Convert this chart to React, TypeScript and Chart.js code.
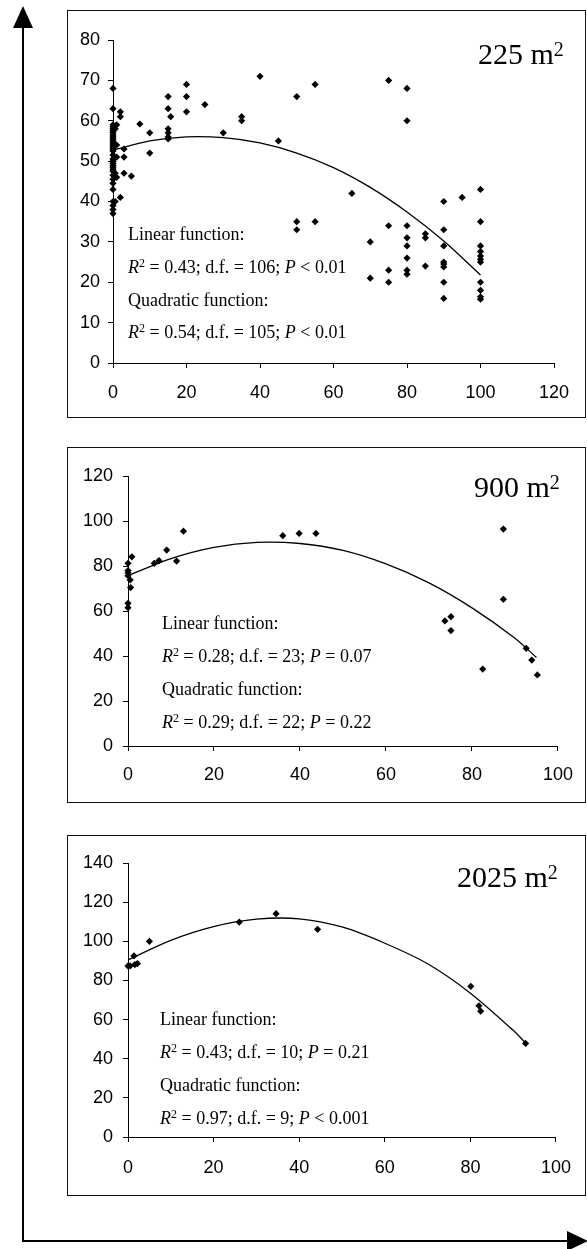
import React, { useEffect, useRef } from 'react';
import { Chart, registerables } from 'chart.js';

Chart.register(...registerables);

// ---------- data ----------
const areaLabels = ['225', '900', '2025'];

// Panel 1: 225 m2
const p225X = [
  0, 0, 0, 0, 0, 0, 0, 0, 0, 0, 0, 0, 0, 0, 0, 0, 0, 0, 0, 0, 0, 0, 0, 0, 0, 0, 0, 0, 0, 0, 0, 0,
  0.6, 0.6, 0.6, 1, 1, 1, 1, 2, 2, 2, 3, 3, 3, 5, 7.3, 10, 10,
  15, 15, 15, 15, 15, 15, 15.7, 20, 20, 20, 25, 30, 35, 35, 40, 45, 50, 50, 50, 55, 55, 65,
  70, 70, 75, 75, 75, 75, 80, 80, 80, 80, 80, 80, 80, 80, 85, 85, 85,
  90, 90, 90, 90, 90, 90, 90, 90, 95, 100, 100, 100, 100, 100, 100, 100, 100, 100, 100, 100,
];
const p225Y = [
  68, 63, 59, 58.5, 58, 57.5, 57, 56.5, 56, 55.5, 55, 54.5, 54, 53.5, 53, 52.5, 51.5, 50.5, 50, 49.5, 49, 48.5, 48, 47.5, 46.5, 45.5, 44.5, 43, 40, 39, 38, 37,
  58, 47, 40, 59, 54, 51, 46, 62.2, 61, 41, 53, 51, 47, 46.3, 59.2, 57, 52,
  66, 63, 58, 57, 56, 55.5, 61, 69, 66, 62.2, 64, 57, 61, 60, 71, 55, 66, 35, 33, 69, 35, 42,
  30, 21, 70, 34, 23, 20, 68, 60, 34, 31, 29, 26, 23, 22, 32, 31, 24,
  40, 33, 29, 25, 24.5, 23.8, 20, 16, 41, 43, 35, 29, 27.6, 26.5, 25.7, 25, 20, 18, 16.4, 15.8,
];
const c225X = [0, 10, 20, 30, 40, 50, 60, 70, 80, 90, 100];
const c225Y = [52.7, 55.0, 56.0, 55.8, 54.5, 52.0, 48.4, 43.5, 37.4, 30.2, 21.8];

// Panel 2: 900 m2
const p900X = [0, 0, 0, 0, 0.9, 0.5, 0.6, 0, 0, 6.1, 7.2, 9, 11.3, 12.9, 36, 39.8, 43.7, 73.7, 75.1, 75.1, 82.5, 87.3, 87.3, 92.6, 93.9, 95.2];
const p900Y = [81.2, 78, 77, 75.7, 84.1, 73.8, 70.4, 63.4, 61.5, 81.2, 82.4, 87.1, 82.2, 95.5, 93.5, 94.5, 94.5, 55.6, 57.5, 51.3, 34.2, 96.4, 65.2, 43.4, 38.2, 31.6];
const c900X = [0, 10, 20, 30, 40, 50, 60, 70, 80, 90, 95];
const c900Y = [75.7, 83.3, 88.3, 90.5, 90.0, 86.9, 80.9, 72.5, 61.4, 47.9, 39.3];

// Panel 3: 2025 m2
const p2025X = [0, 0.5, 1.4, 1.6, 2.2, 5, 26, 34.6, 44.3, 80.1, 82, 82.4, 92.9];
const p2025Y = [87.4, 87.4, 92.5, 88.1, 88.6, 100, 109.8, 114.1, 106.1, 77, 67, 64.3, 47.8];
const c2025X = [0, 10, 20, 30, 40, 50, 60, 70, 80, 90, 93];
const c2025Y = [90.5, 100.5, 107.5, 111.3, 111.5, 107.3, 99, 88.5, 73.5, 54.5, 47.8];

// statistics text
const linR2 = ['0.43', '0.28', '0.43'];
const linDf = ['106', '23', '10'];
const linP = ['< 0.01', '= 0.07', '= 0.21'];
const quadR2 = ['0.54', '0.29', '0.97'];
const quadDf = ['105', '22', '9'];
const quadP = ['< 0.01', '= 0.22', '< 0.001'];

const xMaxes = [120, 100, 100];
const yMaxes = [80, 120, 140];
const yStepsArr = [10, 20, 20];
const xStepsArr = [20, 20, 20];

// ---------- layout (positions / styles) ----------
const BOX_LEFT = 67;
const BOX_W = 519;
const layouts = [
  { top: 10, height: 408, yAxisW: 46, padRight: 32, padTop: 30, xAxisH: 55, xPad: 14, yPad: 8,
    titleLeft: 478, titleBase: 64, textLeft: 128, bases: [240, 273, 306, 338] },
  { top: 447, height: 356, yAxisW: 61, padRight: 28, padTop: 29, xAxisH: 57, xPad: 13, yPad: 10,
    titleLeft: 474, titleBase: 497, textLeft: 162, bases: [629, 662, 695, 728] },
  { top: 835, height: 361, yAxisW: 61, padRight: 28, padTop: 28, xAxisH: 59, xPad: 15, yPad: 10,
    titleLeft: 457, titleBase: 887, textLeft: 160, bases: [1025, 1058, 1091, 1124] },
];

const pointsX = [p225X, p900X, p2025X];
const pointsY = [p225Y, p900Y, p2025Y];
const curvesX = [c225X, c900X, c2025X];
const curvesY = [c225Y, c900Y, c2025Y];

const SANS = '"Liberation Sans", Arial, sans-serif';
const SERIF = '"Liberation Serif", "Times New Roman", serif';

function PanelChart({ idx }: { idx: number }) {
  const ref = useRef<HTMLCanvasElement>(null);
  const L = layouts[idx];
  useEffect(() => {
    const pts = pointsX[idx].map((x, i) => ({ x, y: pointsY[idx][i] }));
    const curve = curvesX[idx].map((x, i) => ({ x, y: curvesY[idx][i] }));
    const tickFont = { family: SANS, size: 18 };
    const chart = new Chart(ref.current as HTMLCanvasElement, {
      type: 'scatter',
      data: {
        datasets: [
          {
            data: curve,
            showLine: true,
            borderColor: '#000',
            borderWidth: 1.3,
            pointRadius: 0,
            tension: 0.3,
            fill: false,
            clip: false,
          } as any,
          {
            data: pts,
            pointStyle: 'rectRot',
            pointRadius: 3.6,
            backgroundColor: '#000',
            borderColor: '#000',
            borderWidth: 0,
            clip: false,
          } as any,
        ],
      },
      options: {
        animation: false,
        responsive: false,
        maintainAspectRatio: false,
        devicePixelRatio: 1,
        layout: { padding: { left: 0, right: L.padRight, top: L.padTop, bottom: 0 } },
        plugins: { legend: { display: false }, tooltip: { enabled: false } },
        scales: {
          x: {
            type: 'linear',
            min: 0,
            max: xMaxes[idx],
            ticks: { stepSize: xStepsArr[idx], color: '#000', font: tickFont, padding: L.xPad, maxRotation: 0 },
            grid: { drawOnChartArea: false, drawTicks: true, tickLength: 5, color: '#000', lineWidth: 1 },
            border: { display: true, color: '#000', width: 1 },
            afterFit: (s: any) => { s.height = L.xAxisH; },
          },
          y: {
            type: 'linear',
            min: 0,
            max: yMaxes[idx],
            ticks: { stepSize: yStepsArr[idx], color: '#000', font: tickFont, padding: L.yPad },
            grid: { drawOnChartArea: false, drawTicks: true, tickLength: 5, color: '#000', lineWidth: 1 },
            border: { display: true, color: '#000', width: 1 },
            afterFit: (s: any) => { s.width = L.yAxisW; },
          },
        },
      } as any,
    });
    return () => chart.destroy();
  }, [idx]);
  return (
    <div style={{ position: 'absolute', left: BOX_LEFT, top: L.top, width: BOX_W, height: L.height }}>
      <canvas ref={ref} width={BOX_W} height={L.height}
        style={{ position: 'absolute', left: 0, top: 0, width: BOX_W, height: L.height }} />
      <div style={{ position: 'absolute', left: 0, top: 0, width: BOX_W, height: L.height,
        border: '1px solid #111', boxSizing: 'border-box', pointerEvents: 'none' }} />
    </div>
  );
}

function textStyle(left: number, baseline: number, size: number): React.CSSProperties {
  return {
    position: 'absolute',
    left,
    top: baseline - 0.8375 * size,
    fontFamily: SERIF,
    fontSize: size,
    lineHeight: `${size}px`,
    whiteSpace: 'nowrap',
    color: '#000',
  };
}

const sup: React.CSSProperties = { fontSize: 12, position: 'relative', top: -6 };

function Annotations({ idx }: { idx: number }) {
  const L = layouts[idx];
  return (
    <>
      <div style={textStyle(L.titleLeft, L.titleBase, 30)}>
        {areaLabels[idx]} m<span style={{ fontSize: 20, position: 'relative', top: -8 }}>2</span>
      </div>
      <div style={textStyle(L.textLeft, L.bases[0], 18)}>Linear function:</div>
      <div style={textStyle(L.textLeft, L.bases[1], 18)}>
        <i>R</i><span style={sup}>2</span> = {linR2[idx]}; d.f. = {linDf[idx]}; <i>P</i> {linP[idx]}
      </div>
      <div style={textStyle(L.textLeft, L.bases[2], 18)}>Quadratic function:</div>
      <div style={textStyle(L.textLeft, L.bases[3], 18)}>
        <i>R</i><span style={sup}>2</span> = {quadR2[idx]}; d.f. = {quadDf[idx]}; <i>P</i> {quadP[idx]}
      </div>
    </>
  );
}

export default function App() {
  return (
    <div style={{ position: 'absolute', left: 0, top: 0, width: 587, height: 1249, background: '#fff', overflow: 'hidden' }}>
      <svg width={587} height={1249} style={{ position: 'absolute', left: 0, top: 0 }}>
        <line x1={23} y1={24} x2={23} y2={1242} stroke="#000" strokeWidth={2} />
        <polygon points="23,6 13,28 33,28" fill="#000" />
        <line x1={22} y1={1241} x2={570} y2={1241} stroke="#000" strokeWidth={2} />
        <polygon points="588,1241 567,1231 567,1251" fill="#000" />
      </svg>
      {[0, 1, 2].map((i) => (
        <PanelChart key={'c' + i} idx={i} />
      ))}
      {[0, 1, 2].map((i) => (
        <Annotations key={'a' + i} idx={i} />
      ))}
    </div>
  );
}
